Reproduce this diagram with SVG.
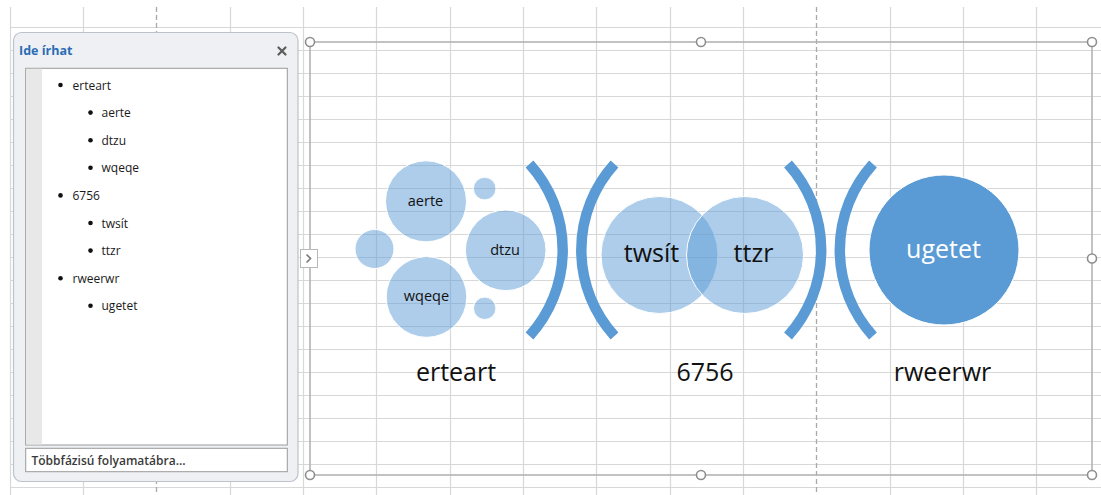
<svg xmlns="http://www.w3.org/2000/svg" width="1101" height="495" viewBox="0 0 1101 495">
<defs>
<style>
.grid{stroke:#d8d8d8;stroke-width:1.2;fill:none}
.pb{stroke:#a8a8a8;stroke-width:1.3;stroke-dasharray:5 3;fill:none}
.frame{stroke:#b3b3b3;stroke-width:1.6;fill:none}
.handle{fill:#fff;stroke:#8e8e8e;stroke-width:1.6}
.bub{fill:#5b9bd5;fill-opacity:0.5;stroke:#fff;stroke-width:1}
.arc{fill:none;stroke:#5b9bd5;stroke-width:10.5;stroke-linecap:butt}
.t{font-family:"Open Sans","Noto Sans",sans-serif;fill:#111;text-anchor:middle}
.lt{font-family:"Open Sans","Noto Sans",sans-serif;font-size:12px;fill:#1a1a1a}
.bul{fill:#111}
</style>
</defs>
<rect width="1101" height="495" fill="#fff"/>
<g id="grid">
<path class="grid" d="M10.5,7V495M83.5,7V495M230.5,7V495M303.5,7V495M376.5,7V495M450.5,7V495M523.5,7V495M596.5,7V495M670.5,7V495M743.5,7V495M890.5,7V495M963.5,7V495M1036.5,7V495"/>
<path class="grid" d="M10,27.5H1101M10,50.5H1101M10,73.5H1101M10,96.5H1101M10,119.5H1101M10,142.5H1101M10,165.5H1101M10,188.5H1101M10,211.5H1101M10,234.5H1101M10,257.5H1101M10,280.5H1101M10,303.5H1101M10,326.5H1101M10,349.5H1101M10,372.5H1101M10,395.5H1101M10,418.5H1101M10,441.5H1101M10,464.5H1101M10,487.5H1101"/>
<path class="pb" d="M156.5,7V495M816.5,7V495"/>
</g>
<g id="text-pane">
<rect x="13.5" y="32.5" width="284.5" height="449" rx="8" fill="#eff0f3" stroke="#bcc3cb" stroke-width="1.2"/>
<text x="19" y="55" font-family="'Open Sans','Noto Sans',sans-serif" font-size="12.5" font-weight="bold" fill="#2b6cb5">Ide írhat</text>
<path d="M278.5,47.5L285.5,54.5M285.5,47.5L278.5,54.5" stroke="#5c5c5c" stroke-width="2.2" stroke-linecap="round"/>
<rect x="25.7" y="68.3" width="261.6" height="376.7" fill="#fff" stroke="#9a9a9a" stroke-width="1"/>
<rect x="26.2" y="68.8" width="15.8" height="375.7" fill="#e8e8e8"/>
<g>
<circle class="bul" cx="60.5" cy="85" r="2.3"/><text class="lt" x="72.5" y="89.5">erteart</text>
<circle class="bul" cx="90.5" cy="112.6" r="2.3"/><text class="lt" x="101.5" y="117.1">aerte</text>
<circle class="bul" cx="90.5" cy="140.2" r="2.3"/><text class="lt" x="101.5" y="144.7">dtzu</text>
<circle class="bul" cx="90.5" cy="167.8" r="2.3"/><text class="lt" x="101.5" y="172.3">wqeqe</text>
<circle class="bul" cx="60.5" cy="195.4" r="2.3"/><text class="lt" x="72.5" y="199.9">6756</text>
<circle class="bul" cx="90.5" cy="223" r="2.3"/><text class="lt" x="101.5" y="227.5">twsít</text>
<circle class="bul" cx="90.5" cy="250.6" r="2.3"/><text class="lt" x="101.5" y="255.1">ttzr</text>
<circle class="bul" cx="60.5" cy="278.2" r="2.3"/><text class="lt" x="72.5" y="282.7">rweerwr</text>
<circle class="bul" cx="90.5" cy="305.8" r="2.3"/><text class="lt" x="101.5" y="310.3">ugetet</text>
</g>
<rect x="25.7" y="448.3" width="261.6" height="23.4" fill="#fff" stroke="#9a9a9a" stroke-width="1"/>
<text x="31.5" y="465" font-family="'Open Sans','Noto Sans',sans-serif" font-size="12" font-weight="600" fill="#3a3a3a">Többfázisú folyamatábra...</text>
</g>
<g id="selection-frame">
<rect class="frame" x="310" y="42" width="782" height="433"/>
<rect x="300.5" y="249.5" width="17" height="18" fill="#fff" stroke="#b8b8b8" stroke-width="1"/>
<path d="M306.5,254.5L310.5,258.5L306.5,262.5" fill="none" stroke="#7a7a7a" stroke-width="1.6"/>
<circle class="handle" cx="310" cy="42" r="4.5"/>
<circle class="handle" cx="701" cy="42" r="4.5"/>
<circle class="handle" cx="1092" cy="42" r="4.5"/>
<circle class="handle" cx="1092" cy="258.5" r="4.5"/>
<circle class="handle" cx="310" cy="475" r="4.5"/>
<circle class="handle" cx="701" cy="475" r="4.5"/>
<circle class="handle" cx="1092" cy="475" r="4.5"/>
</g>
<g id="connectors">
<path class="arc" d="M529.5,164A128,128 0 0 1 529.5,336"/>
<path class="arc" d="M614.5,164A128,128 0 0 0 614.5,336"/>
<path class="arc" d="M788,164A128,128 0 0 1 788,336"/>
<path class="arc" d="M873,164A128,128 0 0 0 873,336"/>
</g>
<g id="node-erteart">
<circle class="bub" cx="374.5" cy="249" r="19.5"/>
<circle class="bub" cx="484.7" cy="188.6" r="11.3"/>
<circle class="bub" cx="484.7" cy="308.3" r="11.2"/>
<text class="t" x="456" y="381" font-size="25">erteart</text>
</g>
<g id="node-aerte">
<circle class="bub" cx="426" cy="201.3" r="40.5"/>
<text class="t" x="425.5" y="205.5" font-size="14.5">aerte</text>
</g>
<g id="node-wqeqe">
<circle class="bub" cx="426.5" cy="297" r="40.3"/>
<text class="t" x="426.5" y="301" font-size="14.5">wqeqe</text>
</g>
<g id="node-dtzu">
<circle class="bub" cx="505.7" cy="250.3" r="40.3"/>
<text class="t" x="505" y="255" font-size="14.5">dtzu</text>
</g>
<g id="node-6756">
<text class="t" x="705" y="381" font-size="25">6756</text>
</g>
<g id="node-twsit">
<circle class="bub" cx="659.5" cy="255" r="58.5"/>
<text class="t" x="651.5" y="261.5" font-size="25">twsít</text>
</g>
<g id="node-ttzr">
<circle class="bub" cx="745" cy="255" r="58.5"/>
<text class="t" x="753.5" y="261.5" font-size="25">ttzr</text>
</g>
<g id="node-rweerwr">
<circle cx="944" cy="250" r="75" fill="#5b9bd5" stroke="#fff" stroke-width="1"/>
<text class="t" x="943.5" y="258" font-size="25" style="fill:#fff">ugetet</text>
<text class="t" x="942.5" y="381" font-size="25">rweerwr</text>
</g>
</svg>
